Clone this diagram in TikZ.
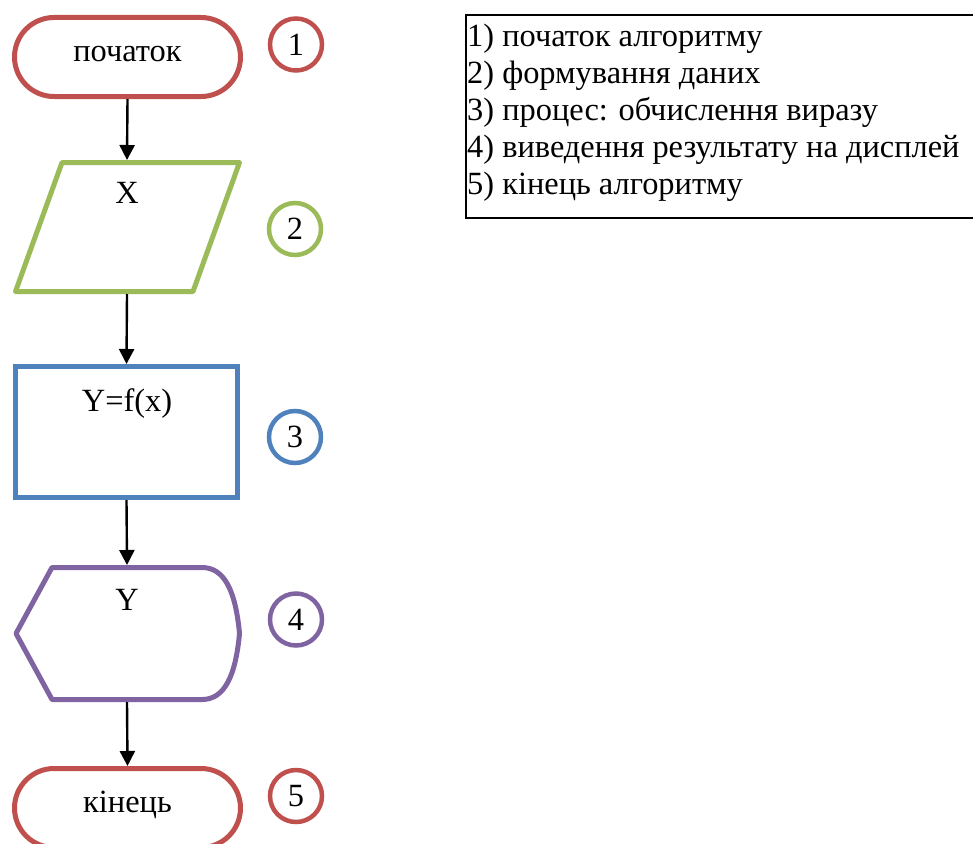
\documentclass[tikz,border=0pt]{standalone}
\usepackage{fontspec}
\setmainfont{Liberation Serif}
\usetikzlibrary{arrows.meta}
\definecolor{cred}{HTML}{C0504D}
\definecolor{cgreen}{HTML}{9BBB59}
\definecolor{cblue}{HTML}{4F81BD}
\definecolor{cpurple}{HTML}{8064A2}
\tikzset{
  txt/.style={font=\fontsize{32.4}{36.8}\selectfont, inner sep=0pt},
  term/.style={draw=cred, line width=5pt, minimum width=226pt, minimum height=79pt, rounded corners=39.5pt, inner sep=0pt},
  shp/.style={line width=5pt, line join=round},
  num/.style={circle, line width=4.5pt, minimum size=52pt, inner sep=0pt, font=\fontsize{32.4}{36.8}\selectfont},
  flow/.style={line width=2.4pt, -{Triangle[length=15pt,width=15pt]}},
}
\begin{document}
\begin{tikzpicture}[x=1pt,y=-1pt]
\useasboundingbox (0,0) rectangle (973,843);
\fill[white] (0,0) rectangle (973,843);
% 1 start
\node[term] (start) at (127.5,57) {};
\node[txt, anchor=base] (starttxt) at (127.5,62) {початок};
% 2 data
\draw[shp, draw=cgreen] (62,162.5) -- (239.5,162.5) -- (193,291.5) -- (15.5,291.5) -- cycle;
\coordinate (datan) at (127,160);
\coordinate (datas) at (127,294);
\node[txt, anchor=base] (datatxt) at (127,203) {X};
% 3 process
\node[draw=cblue, line width=5pt, minimum width=222pt, minimum height=131pt, inner sep=0pt] (proc) at (126.5,432) {};
\node[txt, anchor=base] (proctxt) at (127,411) {Y=f(x)};
% 4 display
\draw[shp, draw=cpurple] (16,633.5) -- (52,567.5) -- (202,567.5)
  .. controls (224,567.5) and (235.5,590) .. (239.5,633.5)
  .. controls (235.5,677) and (224,699.5) .. (202,699.5)
  -- (52,699.5) -- cycle;
\coordinate (dispn) at (127,565);
\coordinate (disps) at (127,702);
\node[txt, anchor=base] (disptxt) at (127,610) {Y};
% 5 end
\node[term] (stop) at (127.5,808) {};
\node[txt, anchor=base] (stoptxt) at (127.5,812) {кінець};
% arrows
\draw[flow] (start.south) -- (datan);
\draw[flow] (datas) -- (proc.north);
\draw[flow] (proc.south) -- (dispn);
\draw[flow] (disps) -- (stop.north);
% numbers
\node[num, draw=cred] (n1) at (296,44.5) {1};
\node[num, draw=cgreen] (n2) at (295,229) {2};
\node[num, draw=cblue] (n3) at (295,437) {3};
\node[num, draw=cpurple] (n4) at (296,619.5) {4};
\node[num, draw=cred] (n5) at (296,796) {5};
% legend
\draw[line width=2pt] (465.5,15.5) rectangle (990,217.5);
\node[txt, anchor=base west] (l1) at (467,47) {1) початок алгоритму};
\node[txt, anchor=base west] (l2) at (467,83.75) {2) формування даних};
\node[txt, anchor=base west] (l3) at (467,120.5) {3) процес: обчислення виразу};
\node[txt, anchor=base west] (l4) at (467,157.25) {4) виведення результату на дисплей};
\node[txt, anchor=base west] (l5) at (467,194) {5) кінець алгоритму};
\end{tikzpicture}
\end{document}
